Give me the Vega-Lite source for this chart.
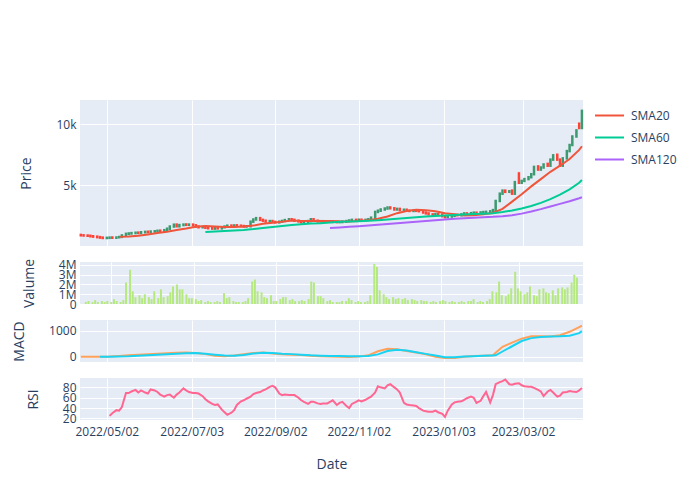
{
"$schema": "https://vega.github.io/schema/vega-lite/v6.json",
"padding": {"left": 12, "top": 100, "right": 5, "bottom": 5},
"bounds": "flush",
"spacing": 16,
"config": {
 "font": "Open Sans",
 "view": {"fill": "#E5ECF6", "stroke": null},
 "axis": {"domain": false, "ticks": false, "gridColor": "#ffffff", "gridWidth": 1, "labelColor": "#2a3f5f", "labelFontSize": 12, "titleColor": "#2a3f5f", "titleFontSize": 14, "titleFontWeight": "normal", "labelPadding": 4, "titlePadding": 22, "labelOverlap": false},
 "legend": {"orient": "right", "offset": 8, "symbolType": "stroke", "symbolSize": 841, "symbolStrokeWidth": 2, "labelFontSize": 12, "labelColor": "#2a3f5f", "labelOffset": 6, "rowPadding": -18, "padding": 0}
},
"datasets": {
"d": [
{"d":"2022-04-13","o":910,"h":930,"l":870,"c":880,"v":0.2},
{"d":"2022-04-15","o":880,"h":900,"l":850,"c":860,"v":0.3},
{"d":"2022-04-18","o":860,"h":870,"l":830,"c":840,"v":0.2},
{"d":"2022-04-20","o":840,"h":850,"l":790,"c":800,"v":0.4},
{"d":"2022-04-22","o":800,"h":810,"l":760,"c":770,"v":0.2},
{"d":"2022-04-25","o":770,"h":780,"l":720,"c":730,"v":0.3},
{"d":"2022-04-27","o":730,"h":740,"l":680,"c":690,"v":0.2},
{"d":"2022-04-29","o":690,"h":700,"l":650,"c":660,"v":0.3},
{"d":"2022-05-02","o":655,"h":690,"l":640,"c":670,"v":0.2},
{"d":"2022-05-04","o":670,"h":700,"l":660,"c":690,"v":0.5,"r":25},
{"d":"2022-05-06","o":700,"h":710,"l":670,"c":680,"v":0.3,"r":30},
{"d":"2022-05-09","o":680,"h":715,"l":670,"c":700,"v":0.2,"r":36},
{"d":"2022-05-11","o":720,"h":750,"l":700,"c":740,"v":0.4,"r":35},
{"d":"2022-05-13","o":750,"h":900,"l":740,"c":870,"v":2.2,"r":42},
{"d":"2022-05-16","o":870,"h":1040,"l":860,"c":1000,"v":3.5,"r":69},
{"d":"2022-05-18","o":1000,"h":1060,"l":980,"c":1030,"v":1.3,"r":69},
{"d":"2022-05-20","o":1030,"h":1080,"l":1010,"c":1060,"v":0.7,"r":72},
{"d":"2022-05-23","o":1060,"h":1110,"l":1040,"c":1090,"v":0.9,"r":75},
{"d":"2022-05-25","o":1100,"h":1110,"l":1050,"c":1070,"v":0.6,"r":70},
{"d":"2022-05-27","o":1070,"h":1150,"l":1060,"c":1130,"v":1.0,"r":74},
{"d":"2022-05-30","o":1130,"h":1180,"l":1110,"c":1160,"v":0.7,"r":70},
{"d":"2022-06-01","o":1170,"h":1180,"l":1120,"c":1140,"v":0.5,"r":68},
{"d":"2022-06-03","o":1140,"h":1210,"l":1130,"c":1190,"v":1.3,"r":76},
{"d":"2022-06-06","o":1190,"h":1230,"l":1170,"c":1210,"v":0.6,"r":74},
{"d":"2022-06-08","o":1210,"h":1270,"l":1200,"c":1250,"v":1.5,"r":71},
{"d":"2022-06-10","o":1260,"h":1270,"l":1210,"c":1230,"v":0.7,"r":66},
{"d":"2022-06-13","o":1230,"h":1320,"l":1220,"c":1300,"v":0.8,"r":62},
{"d":"2022-06-15","o":1300,"h":1440,"l":1290,"c":1420,"v":1.2,"r":65},
{"d":"2022-06-17","o":1420,"h":1630,"l":1410,"c":1600,"v":1.8,"r":66},
{"d":"2022-06-20","o":1600,"h":1790,"l":1590,"c":1750,"v":2.0,"r":60},
{"d":"2022-06-22","o":1760,"h":1780,"l":1600,"c":1620,"v":1.5,"r":66},
{"d":"2022-06-24","o":1620,"h":1740,"l":1610,"c":1720,"v":1.5,"r":70},
{"d":"2022-06-27","o":1720,"h":1790,"l":1700,"c":1760,"v":1.0,"r":78},
{"d":"2022-06-29","o":1770,"h":1790,"l":1720,"c":1740,"v":0.6,"r":74},
{"d":"2022-07-01","o":1740,"h":1790,"l":1720,"c":1760,"v":0.6,"r":71},
{"d":"2022-07-04","o":1760,"h":1770,"l":1680,"c":1700,"v":0.5,"r":69},
{"d":"2022-07-06","o":1700,"h":1710,"l":1590,"c":1600,"v":0.3,"r":69},
{"d":"2022-07-08","o":1600,"h":1610,"l":1530,"c":1540,"v":0.4,"r":68},
{"d":"2022-07-11","o":1540,"h":1580,"l":1520,"c":1560,"v":0.2,"r":63},
{"d":"2022-07-13","o":1560,"h":1570,"l":1490,"c":1500,"v":0.3,"r":57},
{"d":"2022-07-15","o":1500,"h":1510,"l":1450,"c":1460,"v":0.2,"r":53},
{"d":"2022-07-18","o":1460,"h":1470,"l":1420,"c":1430,"v":0.2,"r":48},
{"d":"2022-07-20","o":1430,"h":1500,"l":1420,"c":1480,"v":0.3,"r":46},
{"d":"2022-07-22","o":1480,"h":1490,"l":1440,"c":1450,"v":0.2,"r":47},
{"d":"2022-07-25","o":1450,"h":1560,"l":1440,"c":1540,"v":1.1,"r":37},
{"d":"2022-07-27","o":1540,"h":1620,"l":1530,"c":1600,"v":0.6,"r":32},
{"d":"2022-07-29","o":1600,"h":1690,"l":1590,"c":1670,"v":0.7,"r":27},
{"d":"2022-08-01","o":1680,"h":1690,"l":1630,"c":1650,"v":0.3,"r":31},
{"d":"2022-08-03","o":1650,"h":1710,"l":1640,"c":1690,"v":0.2,"r":36},
{"d":"2022-08-05","o":1700,"h":1710,"l":1650,"c":1670,"v":0.2,"r":46},
{"d":"2022-08-08","o":1670,"h":1680,"l":1630,"c":1640,"v":0.2,"r":53},
{"d":"2022-08-10","o":1640,"h":1650,"l":1590,"c":1600,"v":0.3,"r":55},
{"d":"2022-08-12","o":1600,"h":1640,"l":1590,"c":1620,"v":0.6,"r":58},
{"d":"2022-08-15","o":1620,"h":2050,"l":1610,"c":2000,"v":2.3,"r":62},
{"d":"2022-08-17","o":2000,"h":2220,"l":1990,"c":2180,"v":2.5,"r":67},
{"d":"2022-08-19","o":2180,"h":2330,"l":2170,"c":2290,"v":1.3,"r":69},
{"d":"2022-08-22","o":2290,"h":2300,"l":2130,"c":2150,"v":1.2,"r":71},
{"d":"2022-08-24","o":2150,"h":2160,"l":2060,"c":2080,"v":0.7,"r":74},
{"d":"2022-08-26","o":2080,"h":2090,"l":1990,"c":2010,"v":0.6,"r":76},
{"d":"2022-08-29","o":2010,"h":2070,"l":2000,"c":2050,"v":0.9,"r":81},
{"d":"2022-08-31","o":2050,"h":2060,"l":1970,"c":1980,"v":0.3,"r":83},
{"d":"2022-09-02","o":1980,"h":1990,"l":1920,"c":1940,"v":0.3,"r":80},
{"d":"2022-09-05","o":1940,"h":2020,"l":1930,"c":2000,"v":0.5,"r":68},
{"d":"2022-09-07","o":2000,"h":2080,"l":1990,"c":2060,"v":0.7,"r":65},
{"d":"2022-09-09","o":2060,"h":2150,"l":2050,"c":2130,"v":0.7,"r":66},
{"d":"2022-09-12","o":2130,"h":2230,"l":2120,"c":2200,"v":0.4,"r":65},
{"d":"2022-09-14","o":2200,"h":2210,"l":2130,"c":2150,"v":0.5,"r":65},
{"d":"2022-09-16","o":2150,"h":2160,"l":2060,"c":2080,"v":0.3,"r":65},
{"d":"2022-09-19","o":2080,"h":2090,"l":2000,"c":2020,"v":0.3,"r":60},
{"d":"2022-09-21","o":2020,"h":2030,"l":1930,"c":1950,"v":0.4,"r":55},
{"d":"2022-09-23","o":1950,"h":2010,"l":1940,"c":1990,"v":0.3,"r":52},
{"d":"2022-09-26","o":1990,"h":2070,"l":1980,"c":2050,"v":0.5,"r":48},
{"d":"2022-09-28","o":2050,"h":2260,"l":2040,"c":2200,"v":2.3,"r":52},
{"d":"2022-09-30","o":2200,"h":2210,"l":2060,"c":2080,"v":2.2,"r":52},
{"d":"2022-10-03","o":2080,"h":2090,"l":2000,"c":2020,"v":0.8,"r":49},
{"d":"2022-10-05","o":2020,"h":2060,"l":2010,"c":2040,"v":0.8,"r":48},
{"d":"2022-10-07","o":2040,"h":2050,"l":2000,"c":2010,"v":0.6,"r":49},
{"d":"2022-10-10","o":2010,"h":2020,"l":1980,"c":1990,"v":0.3,"r":49},
{"d":"2022-10-12","o":1990,"h":2040,"l":1980,"c":2020,"v":0.4,"r":52},
{"d":"2022-10-14","o":2020,"h":2030,"l":1970,"c":1980,"v":0.2,"r":55},
{"d":"2022-10-17","o":1980,"h":1990,"l":1940,"c":1960,"v":0.2,"r":46},
{"d":"2022-10-19","o":1960,"h":1990,"l":1950,"c":1970,"v":0.2,"r":50},
{"d":"2022-10-21","o":1970,"h":2020,"l":1960,"c":2000,"v":0.3,"r":52},
{"d":"2022-10-24","o":2000,"h":2070,"l":1990,"c":2050,"v":0.3,"r":44},
{"d":"2022-10-26","o":2050,"h":2120,"l":2040,"c":2100,"v":0.6,"r":40},
{"d":"2022-10-28","o":2100,"h":2170,"l":2090,"c":2150,"v":0.4,"r":48},
{"d":"2022-10-31","o":2150,"h":2160,"l":2100,"c":2120,"v":0.2,"r":52},
{"d":"2022-11-02","o":2120,"h":2180,"l":2110,"c":2160,"v":0.3,"r":55},
{"d":"2022-11-04","o":2160,"h":2170,"l":2120,"c":2140,"v":0.2,"r":53},
{"d":"2022-11-07","o":2140,"h":2170,"l":2130,"c":2150,"v":0.2,"r":56},
{"d":"2022-11-09","o":2150,"h":2220,"l":2140,"c":2200,"v":0.3,"r":59},
{"d":"2022-11-11","o":2200,"h":2350,"l":2190,"c":2330,"v":0.9,"r":62},
{"d":"2022-11-14","o":2330,"h":2850,"l":2320,"c":2800,"v":4.1,"r":70},
{"d":"2022-11-16","o":2800,"h":2950,"l":2780,"c":2900,"v":3.8,"r":82},
{"d":"2022-11-18","o":2900,"h":3050,"l":2880,"c":3000,"v":1.4,"r":80},
{"d":"2022-11-21","o":3000,"h":3120,"l":2980,"c":3080,"v":1.0,"r":78},
{"d":"2022-11-23","o":3080,"h":3210,"l":3060,"c":3160,"v":0.7,"r":84},
{"d":"2022-11-25","o":3170,"h":3190,"l":3080,"c":3100,"v":0.5,"r":86},
{"d":"2022-11-28","o":3100,"h":3110,"l":2980,"c":3000,"v":0.7,"r":80},
{"d":"2022-11-30","o":3000,"h":3080,"l":2990,"c":3050,"v":0.5,"r":76},
{"d":"2022-12-02","o":3050,"h":3060,"l":2930,"c":2950,"v":0.6,"r":70},
{"d":"2022-12-05","o":2950,"h":3000,"l":2940,"c":2980,"v":0.5,"r":50},
{"d":"2022-12-07","o":2980,"h":2990,"l":2880,"c":2900,"v":0.6,"r":47},
{"d":"2022-12-09","o":2900,"h":2920,"l":2860,"c":2880,"v":0.4,"r":46},
{"d":"2022-12-12","o":2880,"h":2940,"l":2870,"c":2920,"v":0.5,"r":45},
{"d":"2022-12-14","o":2920,"h":2930,"l":2870,"c":2890,"v":0.4,"r":44},
{"d":"2022-12-16","o":2890,"h":2900,"l":2840,"c":2860,"v":0.3,"r":40},
{"d":"2022-12-19","o":2860,"h":2870,"l":2730,"c":2750,"v":0.4,"r":35},
{"d":"2022-12-21","o":2750,"h":2760,"l":2660,"c":2680,"v":0.3,"r":34},
{"d":"2022-12-23","o":2680,"h":2690,"l":2580,"c":2600,"v":0.3,"r":33},
{"d":"2022-12-26","o":2600,"h":2610,"l":2530,"c":2550,"v":0.2,"r":33},
{"d":"2022-12-28","o":2550,"h":2640,"l":2540,"c":2620,"v":0.3,"r":35},
{"d":"2022-12-30","o":2620,"h":2630,"l":2560,"c":2580,"v":0.2,"r":32},
{"d":"2023-01-02","o":2580,"h":2590,"l":2430,"c":2450,"v":0.3,"r":29},
{"d":"2023-01-04","o":2450,"h":2460,"l":2350,"c":2370,"v":0.4,"r":23},
{"d":"2023-01-06","o":2370,"h":2440,"l":2360,"c":2420,"v":0.3,"r":35},
{"d":"2023-01-09","o":2420,"h":2500,"l":2410,"c":2480,"v":0.2,"r":47},
{"d":"2023-01-11","o":2480,"h":2570,"l":2470,"c":2550,"v":0.3,"r":51},
{"d":"2023-01-13","o":2550,"h":2560,"l":2510,"c":2530,"v":0.2,"r":52},
{"d":"2023-01-16","o":2530,"h":2620,"l":2520,"c":2600,"v":0.2,"r":53},
{"d":"2023-01-18","o":2600,"h":2700,"l":2590,"c":2680,"v":0.3,"r":56},
{"d":"2023-01-20","o":2680,"h":2690,"l":2630,"c":2650,"v":0.2,"r":59},
{"d":"2023-01-23","o":2650,"h":2720,"l":2640,"c":2700,"v":0.3,"r":62},
{"d":"2023-01-25","o":2700,"h":2760,"l":2690,"c":2740,"v":0.3,"r":60},
{"d":"2023-01-27","o":2740,"h":2750,"l":2700,"c":2720,"v":0.5,"r":50},
{"d":"2023-01-30","o":2720,"h":2780,"l":2710,"c":2760,"v":0.2,"r":54},
{"d":"2023-02-01","o":2760,"h":2810,"l":2750,"c":2790,"v":0.3,"r":63},
{"d":"2023-02-03","o":2790,"h":2830,"l":2780,"c":2810,"v":0.2,"r":71},
{"d":"2023-02-06","o":2810,"h":2870,"l":2800,"c":2850,"v":0.3,"r":51},
{"d":"2023-02-08","o":2850,"h":2980,"l":2840,"c":2950,"v":0.5,"r":65},
{"d":"2023-02-10","o":2950,"h":3760,"l":2940,"c":3700,"v":1.3,"r":86},
{"d":"2023-02-13","o":3700,"h":4350,"l":3690,"c":4300,"v":1.2,"r":90},
{"d":"2023-02-15","o":4300,"h":4620,"l":4290,"c":4550,"v":2.3,"r":92},
{"d":"2023-02-17","o":4550,"h":4580,"l":4400,"c":4450,"v":0.9,"r":95},
{"d":"2023-02-20","o":4450,"h":4560,"l":4420,"c":4500,"v":0.8,"r":86},
{"d":"2023-02-22","o":4550,"h":4580,"l":4270,"c":4300,"v":1.0,"r":85},
{"d":"2023-02-24","o":4300,"h":5300,"l":4290,"c":5250,"v":1.6,"r":87},
{"d":"2023-02-27","o":5950,"h":6090,"l":5150,"c":5200,"v":3.3,"r":88},
{"d":"2023-03-01","o":5200,"h":5400,"l":5180,"c":5350,"v":1.6,"r":84},
{"d":"2023-03-03","o":5350,"h":5550,"l":5330,"c":5500,"v":1.3,"r":82},
{"d":"2023-03-06","o":5500,"h":5700,"l":5480,"c":5650,"v":1.0,"r":81},
{"d":"2023-03-08","o":5650,"h":5950,"l":5630,"c":5900,"v":1.2,"r":81},
{"d":"2023-03-10","o":5900,"h":6550,"l":5880,"c":6500,"v":1.8,"r":79},
{"d":"2023-03-13","o":6540,"h":6600,"l":6250,"c":6280,"v":0.9,"r":75},
{"d":"2023-03-15","o":6280,"h":6500,"l":6260,"c":6450,"v":0.8,"r":72},
{"d":"2023-03-17","o":6450,"h":6750,"l":6430,"c":6700,"v":1.5,"r":63},
{"d":"2023-03-20","o":6750,"h":6800,"l":6560,"c":6600,"v":1.6,"r":72},
{"d":"2023-03-22","o":6600,"h":7150,"l":6580,"c":7100,"v":1.2,"r":75},
{"d":"2023-03-24","o":7100,"h":7520,"l":7080,"c":7450,"v":1.1,"r":70},
{"d":"2023-03-27","o":7500,"h":7550,"l":7050,"c":7100,"v":1.4,"r":62},
{"d":"2023-03-29","o":7100,"h":7120,"l":6550,"c":6600,"v":0.9,"r":64},
{"d":"2023-03-31","o":6600,"h":7250,"l":6580,"c":7200,"v":1.6,"r":70},
{"d":"2023-04-03","o":7200,"h":7850,"l":7180,"c":7800,"v":1.7,"r":71},
{"d":"2023-04-05","o":7800,"h":8350,"l":7780,"c":8300,"v":1.5,"r":73},
{"d":"2023-04-07","o":8300,"h":9050,"l":8280,"c":9000,"v":1.7,"r":72},
{"d":"2023-04-10","o":9000,"h":9550,"l":8980,"c":9500,"v":2.2,"r":71},
{"d":"2023-04-12","o":10050,"h":10100,"l":9650,"c":9700,"v":3.0,"r":74},
{"d":"2023-04-14","o":9700,"h":11200,"l":9680,"c":11100,"v":2.7,"r":79}
],
"w": [
{"d":"2022-04-13","m":0},
{"d":"2022-04-20","m":0},
{"d":"2022-04-27","m":0,"sg":0},
{"d":"2022-05-04","m":5,"sg":3},
{"d":"2022-05-11","SMA20":750,"m":30,"sg":8},
{"d":"2022-05-18","SMA20":772,"m":60,"sg":15},
{"d":"2022-05-25","SMA20":842,"m":80,"sg":35},
{"d":"2022-06-01","SMA20":951,"m":95,"sg":55},
{"d":"2022-06-08","SMA20":1072,"m":115,"sg":75},
{"d":"2022-06-15","SMA20":1175,"m":135,"sg":92},
{"d":"2022-06-22","SMA20":1313,"m":150,"sg":110},
{"d":"2022-06-29","SMA20":1433,"m":165,"sg":135},
{"d":"2022-07-06","SMA20":1573,"m":145,"sg":145},
{"d":"2022-07-13","SMA20":1636,"SMA60":1145,"m":100,"sg":110},
{"d":"2022-07-20","SMA20":1605,"SMA60":1185,"m":40,"sg":75},
{"d":"2022-07-27","SMA20":1566,"SMA60":1230,"m":15,"sg":45},
{"d":"2022-08-03","SMA20":1552,"SMA60":1275,"m":50,"sg":35},
{"d":"2022-08-10","SMA20":1598,"SMA60":1320,"m":100,"sg":70},
{"d":"2022-08-17","SMA20":1676,"SMA60":1390,"m":140,"sg":120},
{"d":"2022-08-24","SMA20":1834,"SMA60":1480,"m":160,"sg":150},
{"d":"2022-08-31","SMA20":1920,"SMA60":1560,"m":120,"sg":140},
{"d":"2022-09-07","SMA20":1997,"SMA60":1640,"m":95,"sg":115},
{"d":"2022-09-14","SMA20":2094,"SMA60":1720,"m":80,"sg":100},
{"d":"2022-09-21","SMA20":2050,"SMA60":1790,"m":65,"sg":80},
{"d":"2022-09-28","SMA20":2058,"SMA60":1840,"m":40,"sg":55},
{"d":"2022-10-05","SMA20":2060,"SMA60":1880,"m":20,"sg":40},
{"d":"2022-10-12","SMA20":2065,"SMA60":1940,"SMA120":1480,"m":10,"sg":30},
{"d":"2022-10-19","SMA20":2030,"SMA60":1990,"SMA120":1530,"m":0,"sg":25},
{"d":"2022-10-26","SMA20":2020,"SMA60":2010,"SMA120":1580,"m":-5,"sg":20},
{"d":"2022-11-02","SMA20":2060,"SMA60":2040,"SMA120":1630,"m":5,"sg":18},
{"d":"2022-11-09","SMA20":2110,"SMA60":2070,"SMA120":1680,"m":55,"sg":25},
{"d":"2022-11-16","SMA20":2236,"SMA60":2110,"SMA120":1740,"m":210,"sg":90},
{"d":"2022-11-23","SMA20":2422,"SMA60":2170,"SMA120":1800,"m":300,"sg":220},
{"d":"2022-11-30","SMA20":2698,"SMA60":2230,"SMA120":1870,"m":285,"sg":270},
{"d":"2022-12-07","SMA20":2881,"SMA60":2300,"SMA120":1930,"m":220,"sg":235},
{"d":"2022-12-14","SMA20":2985,"SMA60":2370,"SMA120":1990,"m":160,"sg":170},
{"d":"2022-12-21","SMA20":2932,"SMA60":2420,"SMA120":2050,"m":95,"sg":110},
{"d":"2022-12-28","SMA20":2848,"SMA60":2470,"SMA120":2110,"m":0,"sg":50},
{"d":"2023-01-04","SMA20":2696,"SMA60":2510,"SMA120":2170,"m":-45,"sg":-20},
{"d":"2023-01-11","SMA20":2600,"SMA60":2550,"SMA120":2230,"m":-45,"sg":-15},
{"d":"2023-01-18","SMA20":2516,"SMA60":2590,"SMA120":2285,"m":0,"sg":5},
{"d":"2023-01-25","SMA20":2525,"SMA60":2630,"SMA120":2330,"m":25,"sg":20},
{"d":"2023-02-01","SMA20":2615,"SMA60":2660,"SMA120":2370,"m":40,"sg":35},
{"d":"2023-02-08","SMA20":2718,"SMA60":2700,"SMA120":2400,"m":55,"sg":50},
{"d":"2023-02-10","m":150,"sg":55},
{"d":"2023-02-15","SMA20":3050,"SMA60":2790,"SMA120":2450,"m":380,"sg":200},
{"d":"2023-02-22","SMA20":3650,"SMA60":2920,"SMA120":2530,"m":540,"sg":400},
{"d":"2023-03-01","SMA20":4250,"SMA60":3080,"SMA120":2660,"m":690,"sg":600},
{"d":"2023-03-08","SMA20":4900,"SMA60":3290,"SMA120":2830,"m":780,"sg":710},
{"d":"2023-03-15","SMA20":5500,"SMA60":3540,"SMA120":3030,"m":785,"sg":750},
{"d":"2023-03-22","SMA20":6100,"SMA60":3850,"SMA120":3250,"m":770,"sg":775},
{"d":"2023-03-29","SMA20":6600,"SMA60":4220,"SMA120":3460,"m":820,"sg":780},
{"d":"2023-04-05","SMA20":7150,"SMA60":4650,"SMA120":3680,"m":950,"sg":800},
{"d":"2023-04-12","SMA20":7900,"SMA60":5200,"SMA120":3930,"m":1130,"sg":900},
{"d":"2023-04-14","SMA20":8200,"SMA60":5420,"SMA120":4010,"m":1180,"sg":978}
]
},
"vconcat": [
{
 "width": 503, "height": 146,
 "layer": [
  {"data": {"name": "d"}, "mark": {"type": "rule", "strokeWidth": 1},
   "encoding": {
    "x": {"field": "d", "type": "temporal", "scale": {"domain": [{"year": 2022, "month": 4, "date": 12, "hours": 10}, {"year": 2023, "month": 4, "date": 14, "hours": 19}]}, "axis": {"values": [{"year": 2022, "month": 5, "date": 2}, {"year": 2022, "month": 7, "date": 3}, {"year": 2022, "month": 9, "date": 2}, {"year": 2022, "month": 11, "date": 2}, {"year": 2023, "month": 1, "date": 3}, {"year": 2023, "month": 3, "date": 2}], "labels": false, "title": null, "grid": true}},
    "y": {"field": "l", "type": "quantitative", "title": "Price", "scale": {"domain": [100, 11650]}, "axis": {"values": [5000, 10000], "format": "~s"}},
    "y2": {"field": "h"},
    "color": {"condition": {"test": "datum.c >= datum.o", "value": "#3D9970"}, "value": "#FF4136"}
   }},
  {"data": {"name": "d"}, "mark": {"type": "rule", "strokeWidth": 2.5, "strokeCap": "square"},
   "encoding": {
    "x": {"field": "d", "type": "temporal"},
    "y": {"field": "o", "type": "quantitative", "title": "Price"},
    "y2": {"field": "c"},
    "color": {"condition": {"test": "datum.c >= datum.o", "value": "#3D9970"}, "value": "#FF4136"}
   }},
  {"data": {"name": "w"},
   "transform": [{"fold": ["SMA20", "SMA60", "SMA120"], "as": ["key", "value"]}, {"filter": "isValid(datum.value)"}],
   "mark": {"type": "line", "strokeWidth": 2},
   "encoding": {
    "x": {"field": "d", "type": "temporal"},
    "y": {"field": "value", "type": "quantitative", "title": "Price"},
    "color": {"field": "key", "type": "nominal", "scale": {"domain": ["SMA20", "SMA60", "SMA120"], "range": ["#EF553B", "#00CC96", "#AB63FA"]}, "legend": {"title": null}}
   }}
 ]
},
{
 "width": 503, "height": 42,
 "data": {"name": "d"},
 "mark": {"type": "bar", "size": 2, "color": "#B6E880"},
 "encoding": {
  "x": {"field": "d", "type": "temporal", "scale": {"domain": [{"year": 2022, "month": 4, "date": 12, "hours": 10}, {"year": 2023, "month": 4, "date": 14, "hours": 19}]}, "axis": {"values": [{"year": 2022, "month": 5, "date": 2}, {"year": 2022, "month": 7, "date": 3}, {"year": 2022, "month": 9, "date": 2}, {"year": 2022, "month": 11, "date": 2}, {"year": 2023, "month": 1, "date": 3}, {"year": 2023, "month": 3, "date": 2}], "labels": false, "title": null, "grid": true}},
  "y": {"field": "v", "type": "quantitative", "title": "Valume", "scale": {"domain": [0, 4.3]}, "axis": {"values": [0, 1, 2, 3, 4], "labelExpr": "datum.value == 0 ? '0' : datum.value + 'M'"}}
 }
},
{
 "width": 503, "height": 42,
 "data": {"name": "w"},
 "layer": [
  {"mark": {"type": "line", "strokeWidth": 2, "color": "#FFA15A"},
   "encoding": {
    "x": {"field": "d", "type": "temporal", "scale": {"domain": [{"year": 2022, "month": 4, "date": 12, "hours": 10}, {"year": 2023, "month": 4, "date": 14, "hours": 19}]}, "axis": {"values": [{"year": 2022, "month": 5, "date": 2}, {"year": 2022, "month": 7, "date": 3}, {"year": 2022, "month": 9, "date": 2}, {"year": 2022, "month": 11, "date": 2}, {"year": 2023, "month": 1, "date": 3}, {"year": 2023, "month": 3, "date": 2}], "labels": false, "title": null, "grid": true}},
    "y": {"field": "m", "type": "quantitative", "title": "MACD", "scale": {"domain": [-140, 1290]}, "axis": {"values": [0, 500, 1000], "format": "d"}}
   }},
  {"transform": [{"filter": "isValid(datum.sg)"}],
   "mark": {"type": "line", "strokeWidth": 2, "color": "#19D3F3"},
   "encoding": {
    "x": {"field": "d", "type": "temporal"},
    "y": {"field": "sg", "type": "quantitative", "title": "MACD"}
   }}
 ]
},
{
 "width": 503, "height": 42,
 "data": {"name": "d"},
 "transform": [{"filter": "isValid(datum.r)"}],
 "mark": {"type": "line", "strokeWidth": 2, "color": "#FF6692"},
 "encoding": {
  "x": {"field": "d", "type": "temporal", "scale": {"domain": [{"year": 2022, "month": 4, "date": 12, "hours": 10}, {"year": 2023, "month": 4, "date": 14, "hours": 19}]}, "axis": {"values": [{"year": 2022, "month": 5, "date": 2}, {"year": 2022, "month": 7, "date": 3}, {"year": 2022, "month": 9, "date": 2}, {"year": 2022, "month": 11, "date": 2}, {"year": 2023, "month": 1, "date": 3}, {"year": 2023, "month": 3, "date": 2}], "format": "%Y/%m/%d", "labelPadding": 6, "title": "Date", "titlePadding": 20, "grid": true}},
  "y": {"field": "r", "type": "quantitative", "title": "RSI", "scale": {"domain": [17, 98]}, "axis": {"values": [20, 40, 60, 80]}}
 }
}
]
}
